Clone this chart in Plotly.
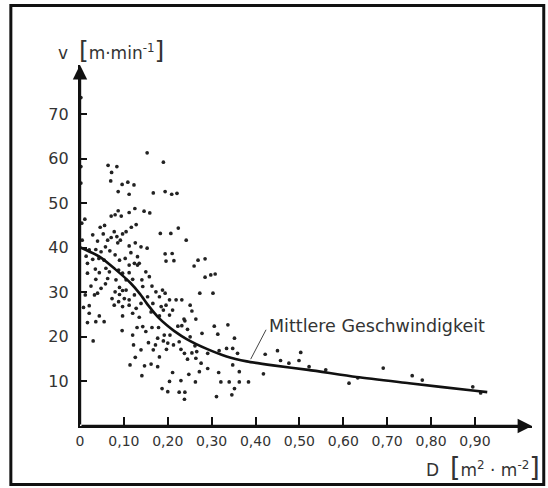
import plotly.graph_objects as go

# ---- data ----
density = [
    0.153, 0.190, 0.064, 0.084, 0.072, 0.070, 0.096, 0.109, 0.123, 0.087, 0.112, 0.167, 0.194, 0.209, 0.221,
    0.011, 0.071, 0.080, 0.087, 0.094, 0.112, 0.125, 0.146, 0.159, 0.046, 0.056, 0.117, 0.128, 0.224, 0.004,
    0.002, 0.002, 0.002,
    0.029, 0.040, 0.053, 0.063, 0.071, 0.078, 0.084, 0.086, 0.092, 0.097, 0.105, 0.112, 0.126, 0.139, 0.153,
    0.183, 0.207, 0.005,
    0.021, 0.036, 0.048, 0.058, 0.068, 0.080, 0.014, 0.029, 0.043, 0.055, 0.090, 0.103, 0.116, 0.131, 0.112,
    0.124, 0.135, 0.194, 0.196, 0.210,
    0.017, 0.035, 0.044, 0.059, 0.067, 0.088, 0.097, 0.112, 0.131, 0.150, 0.158, 0.141, 0.120, 0.105, 0.082,
    0.063, 0.036, 0.017,
    0.025, 0.048, 0.058, 0.090, 0.105, 0.143, 0.164, 0.188,
    0.012, 0.033, 0.040, 0.080, 0.090, 0.097, 0.073, 0.101, 0.112, 0.124, 0.154, 0.173, 0.181, 0.194, 0.204,
    0.078, 0.088, 0.097, 0.112, 0.128, 0.139, 0.166, 0.185, 0.196,
    0.021, 0.044, 0.097, 0.120, 0.135, 0.162, 0.181, 0.190, 0.204, 0.211, 0.008, 0.021, 0.214,
    0.242, 0.269, 0.285, 0.260, 0.285, 0.298, 0.308, 0.273, 0.303, 0.219, 0.232, 0.251, 0.255, 0.237, 0.264,
    0.017, 0.036, 0.055, 0.096, 0.030, 0.120, 0.130, 0.143, 0.150, 0.164, 0.179, 0.192, 0.205, 0.177, 0.190,
    0.200, 0.213, 0.122, 0.156, 0.172, 0.139, 0.167, 0.197, 0.126, 0.181, 0.114, 0.147, 0.162, 0.177, 0.141,
    0.211, 0.187, 0.200, 0.204,
    0.223, 0.245, 0.306, 0.337, 0.314, 0.278, 0.352, 0.226, 0.230, 0.238, 0.255, 0.266, 0.291, 0.317, 0.334,
    0.348, 0.359, 0.422, 0.245, 0.264, 0.276, 0.291, 0.272, 0.316, 0.348, 0.363, 0.418, 0.248, 0.230, 0.263,
    0.321, 0.340, 0.363, 0.384, 0.352, 0.226, 0.239, 0.238, 0.311, 0.346, 0.232, 0.239, 0.251, 0.262,
    0.450, 0.457, 0.476, 0.499, 0.503, 0.522, 0.560, 0.613, 0.633, 0.691, 0.757, 0.780, 0.895, 0.913,
]
speed = [
    61.3, 59.2, 58.5, 58.2, 56.9, 55.0, 54.2, 54.7, 54.1, 52.6, 52.0, 52.3, 52.6, 52.0, 52.2,
    46.4, 47.1, 47.4, 48.3, 47.1, 47.9, 48.8, 48.2, 47.8, 44.6, 45.0, 44.6, 45.2, 44.4, 45.5,
    73.7, 58.2, 54.5,
    42.9, 41.5, 43.1, 41.7, 42.3, 43.6, 42.5, 41.1, 41.7, 43.1, 43.6, 40.4, 41.1, 40.2, 39.9,
    43.2, 43.2, 41.7,
    39.5, 39.6, 39.1, 40.2, 39.3, 38.4, 38.1, 37.4, 37.6, 37.2, 37.2, 37.6, 38.9, 38.0, 36.1,
    36.5, 36.5, 38.6, 37.0, 38.7,
    36.5, 35.2, 34.4, 35.4, 34.6, 35.0, 34.3, 34.4, 36.1, 34.6, 33.5, 32.8, 32.9, 32.8, 32.8,
    33.1, 32.9, 34.3,
    31.4, 30.9, 31.9, 31.1, 30.5, 31.3, 31.4, 30.5,
    29.4, 29.4, 29.8, 30.1, 29.5, 30.4, 28.6, 28.6, 28.3, 29.4, 29.0, 30.1, 29.0, 29.8, 28.3,
    27.1, 27.9, 26.8, 27.1, 26.4, 27.5, 27.5, 26.8, 27.1,
    25.3, 24.7, 24.7, 25.3, 24.4, 25.6, 24.7, 26.0, 24.9, 26.0, 26.6, 27.0, 37.1,
    41.7, 37.2, 37.5, 35.9, 33.4, 33.9, 34.1, 29.8, 29.8, 28.3, 28.3, 27.1, 25.8, 24.0, 24.0,
    23.2, 23.4, 23.4, 21.4, 19.1, 20.4, 22.1, 22.3, 21.2, 22.1, 22.1, 20.4, 20.4, 19.7, 19.1,
    18.6, 18.2, 18.2, 18.7, 18.2, 17.1, 17.1, 17.2, 15.4, 15.5, 13.7, 13.5, 13.9, 13.3, 11.3,
    12.0, 8.4, 7.7, 10.0,
    22.4, 21.7, 22.4, 22.7, 20.6, 20.8, 19.7, 18.9, 17.2, 16.3, 16.4, 16.7, 16.3, 16.9, 17.4,
    17.4, 16.3, 16.1, 15.0, 15.2, 14.1, 12.9, 12.2, 12.0, 13.7, 12.2, 11.7, 11.6, 10.2, 9.9,
    9.9, 9.9, 9.9, 9.9, 8.4, 7.6, 7.6, 6.0, 6.6, 7.0, 22.5, 23.6, 20.0, 18.0,
    16.9, 14.7, 14.1, 14.7, 16.5, 13.3, 12.6, 9.6, 10.8, 13.0, 11.3, 10.3, 8.8, 7.4,
]

mean_density = [0, 0.046, 0.08, 0.114, 0.137, 0.156, 0.18, 0.198, 0.215, 0.243, 0.289, 0.334, 0.38,
                0.44, 0.52, 0.63, 0.75, 0.90, 0.928]
mean_speed = [40.1, 37.9, 35.2, 32.2, 29.6, 27.0, 24.2, 22.6, 21.3, 19.5, 17.3, 15.6, 14.5,
              13.6, 12.6, 11.0, 9.6, 7.9, 7.6]

x_ticks = [0, 0.1, 0.2, 0.3, 0.4, 0.5, 0.6, 0.7, 0.8, 0.9]
x_tick_labels = ["0", "0,10", "0,20", "0,30", "0,40", "0,50", "0,60", "0,70", "0,80", "0,90"]
y_ticks = [10, 20, 30, 40, 50, 60, 70]
y_tick_labels = ["10", "20", "30", "40", "50", "60", "70"]

mean_label = "Mittlere Geschwindigkeit"
y_title = "v  <span style='font-size:25px'>[</span>m·min<sup>-1</sup><span style='font-size:25px'>]</span>"
x_title = "D  <span style='font-size:27px'>[</span>m<sup>2</sup> · m<sup>-2</sup><span style='font-size:27px'>]</span>"

X_MAX = 1.03
Y_MAX = 81
INK = "#222222"
FONT = "DejaVu Sans"

fig = go.Figure()
fig.add_trace(go.Scatter(
    x=density, y=speed, mode="markers",
    marker=dict(size=3.7, color=INK),
    showlegend=False, cliponaxis=False,
))
fig.add_trace(go.Scatter(
    x=mean_density, y=mean_speed, mode="lines",
    line=dict(color="#111111", width=2.6, shape="spline", smoothing=0.7),
    showlegend=False, cliponaxis=False,
))

# axis arrows
fig.add_annotation(x=X_MAX, y=0, ax=0, ay=0, xref="x", yref="y", axref="x", ayref="y",
                   text="", showarrow=True, arrowhead=2, arrowsize=1.2, arrowwidth=2.4,
                   arrowcolor="#111111")
fig.add_annotation(x=0, y=Y_MAX, ax=0, ay=0, xref="x", yref="y", axref="x", ayref="y",
                   text="", showarrow=True, arrowhead=2, arrowsize=1.2, arrowwidth=2.4,
                   arrowcolor="#111111")

# leader line + label
fig.add_shape(type="line", x0=0.389, y0=15.0, x1=0.424, y1=21.6, xref="x", yref="y",
              line=dict(color="#444444", width=1))
fig.add_annotation(x=0.426, y=22.4, xref="x", yref="y", text=mean_label, showarrow=False,
                   xanchor="left", yanchor="middle", font=dict(family=FONT, size=17.5, color="#333333"))

# axis titles
fig.add_annotation(x=-0.052, y=1.04, xref="paper", yref="paper", text=y_title, showarrow=False,
                   xanchor="left", yanchor="middle", font=dict(family=FONT, size=17, color="#333333"))
fig.add_annotation(x=0.762, y=-0.112, xref="paper", yref="paper", text=x_title, showarrow=False,
                   xanchor="left", yanchor="middle", font=dict(family=FONT, size=17, color="#333333"))

# outer frame
fig.add_shape(type="rect", xref="paper", yref="paper", x0=-0.153, x1=1.026, y0=-0.162, y1=1.165,
              line=dict(color="#111111", width=3))

fig.update_layout(
    width=548, height=488,
    margin=dict(l=80, r=16, t=65, b=62),
    paper_bgcolor="white", plot_bgcolor="white",
    font=dict(family=FONT, color="#333333"),
    xaxis=dict(range=[0, X_MAX], tickvals=x_ticks, ticktext=x_tick_labels,
               showgrid=False, zeroline=False, showline=True, linecolor="#111111", linewidth=2.4,
               ticks="inside", ticklen=9, tickwidth=2, tickcolor="#111111",
               tickfont=dict(family=FONT, size=14, color="#333333"), ticklabelstandoff=1),
    yaxis=dict(range=[0, Y_MAX], tickvals=y_ticks, ticktext=y_tick_labels,
               showgrid=False, zeroline=False, showline=True, linecolor="#111111", linewidth=2.4,
               ticks="inside", ticklen=7, tickwidth=2, tickcolor="#111111",
               tickfont=dict(family=FONT, size=16, color="#333333"), ticklabelstandoff=6),
)

fig.write_html(
    "out.html",
    config={"displayModeBar": False},
    post_script="document.body.style.margin='0';document.body.style.overflow='hidden';",
)
